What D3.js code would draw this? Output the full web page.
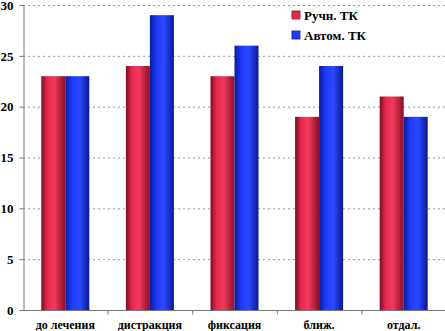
<!DOCTYPE html>
<html>
<head>
<meta charset="utf-8">
<script src="https://cdn.jsdelivr.net/npm/d3@7"></script>
<style>
  body { margin: 0; background: #fff; }
  svg { display: block; }
  text { font-family: "Liberation Serif", "Times New Roman", serif; font-weight: bold; fill: #000; }
</style>
</head>
<body>
<svg id="chart" width="445" height="331"></svg>
<script>
var categories = ['до лечения', 'дистракция', 'фиксация', 'ближ.', 'отдал.'];
var seriesNames = ['Ручн. ТК', 'Автом. ТК'];
var manualTK = [23, 24, 23, 19, 21];
var autoTK = [23, 29, 26, 24, 19];
var yTicks = [0, 5, 10, 15, 20, 25, 30];

var svg = d3.select('#chart');
var padL = 23, padR = 446, padT = 5, padB = 310;

var x = d3.scaleBand().domain(categories).range([padL, padR]).paddingInner(0).paddingOuter(0);
var y = d3.scaleLinear().domain([0, 30]).range([padB, padT]);

// gradients for the cylinder-like bars
var defs = svg.append('defs');
var grads = [
  {id: 'gRed', stops: [['0%', '#7a0c22'], ['25%', '#e8284f'], ['55%', '#f03a5c'], ['100%', '#8a0f28']]},
  {id: 'gBlue', stops: [['0%', '#0a1a9a'], ['30%', '#1f3cff'], ['60%', '#2a48ff'], ['100%', '#0a1890']]}
];
grads.forEach(function(g) {
  var lg = defs.append('linearGradient').attr('id', g.id).attr('x1', '0%').attr('x2', '100%').attr('y1', '0%').attr('y2', '0%');
  g.stops.forEach(function(s) { lg.append('stop').attr('offset', s[0]).attr('stop-color', s[1]); });
});

// grid
svg.append('g').selectAll('line').data(yTicks.filter(function(d) { return d > 0; }))
  .enter().append('line')
  .attr('x1', padL).attr('x2', 445)
  .attr('y1', function(d) { return y(d) + 0.5; }).attr('y2', function(d) { return y(d) + 0.5; })
  .style('stroke', '#999').style('stroke-dasharray', '2,3');

var inner = d3.scaleBand().domain(seriesNames).range([0, 48]);
var barW = 24;
var groups = svg.append('g').selectAll('g').data(categories).enter().append('g')
  .attr('transform', function(d) { return 'translate(' + (x(d) + x.bandwidth() / 2 - 24) + ',0)'; });

groups.selectAll('rect')
  .data(function(d, i) { return [{s: seriesNames[0], v: manualTK[i]}, {s: seriesNames[1], v: autoTK[i]}]; })
  .enter().append('rect')
  .attr('x', function(d) { return inner(d.s); })
  .attr('width', barW)
  .attr('y', function(d) { return y(d.v); })
  .attr('height', function(d) { return padB - y(d.v); })
  .style('fill', function(d) { return d.s === seriesNames[0] ? 'url(#gRed)' : 'url(#gBlue)'; });

// axes
var yAxis = d3.axisLeft(y).tickValues(yTicks).tickSize(4).tickPadding(6);
var ya = svg.append('g').attr('transform', 'translate(' + (padL + 0.5) + ',0)').call(yAxis);
ya.select('.domain').style('stroke', '#777');
ya.selectAll('.tick line').style('stroke', '#777');
ya.selectAll('.tick text').style('font-size', '13px').style('font-family', '"Liberation Serif", serif').style('font-weight', 'bold');

var xa = svg.append('g').attr('transform', 'translate(0,' + (padB + 0.5) + ')');
xa.append('line').attr('x1', padL).attr('x2', 445).style('stroke', '#777');
xa.selectAll('line.tk').data(categories.slice(1)).enter().append('line').attr('class', 'tk')
  .attr('x1', function(d) { return x(d) + 0.5; }).attr('x2', function(d) { return x(d) + 0.5; })
  .attr('y1', 0).attr('y2', 4).style('stroke', '#777');
xa.selectAll('text').data(categories).enter().append('text')
  .attr('x', function(d) { return x(d) + x.bandwidth() / 2; })
  .attr('y', 18)
  .attr('text-anchor', 'middle')
  .style('font-size', '12px')
  .text(function(d) { return d; });

// legend
var legend = svg.append('g').attr('transform', 'translate(292,11)');
var li = legend.selectAll('g').data(seriesNames).enter().append('g')
  .attr('transform', function(d, i) { return 'translate(0,' + (i * 20) + ')'; });
li.append('rect').attr('width', 8).attr('height', 8)
  .style('fill', function(d, i) { return i === 0 ? '#e8284f' : '#1f3cff'; })
  .style('stroke', function(d, i) { return i === 0 ? '#8a0f28' : '#0a1890'; }).style('stroke-width', 0.8);
li.append('text').attr('x', 12).attr('y', 9).style('font-size', '13px').text(function(d) { return d; });
</script>
</body>
</html>
